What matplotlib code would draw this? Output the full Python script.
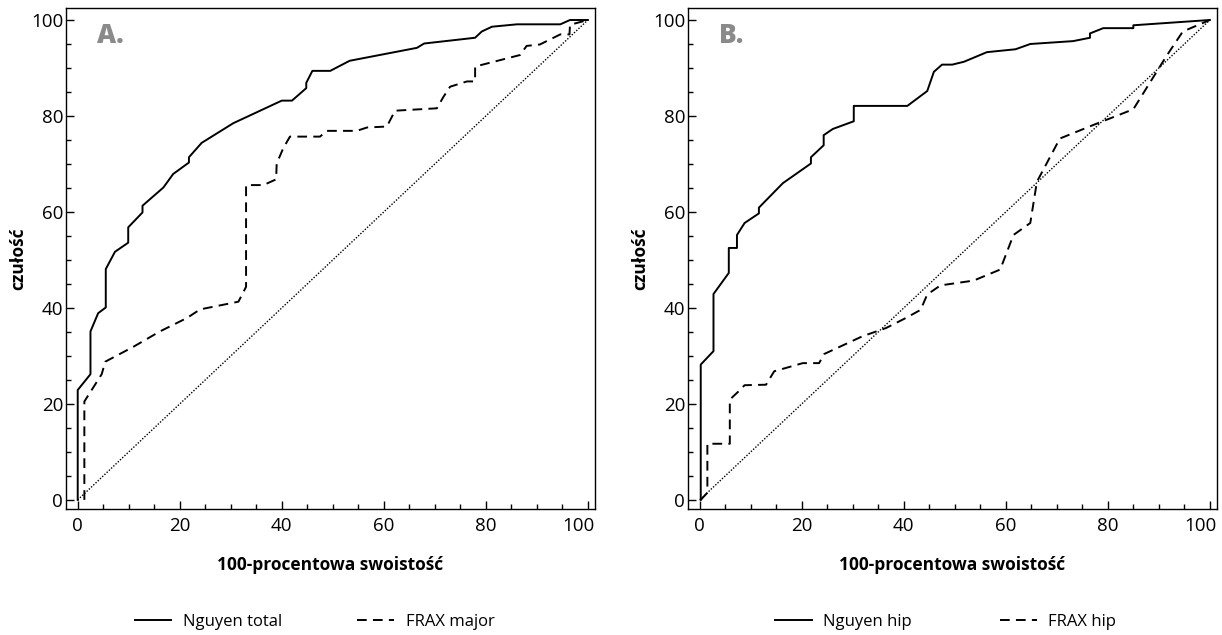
import matplotlib
matplotlib.use("Agg")
import matplotlib.pyplot as plt
from matplotlib.ticker import MultipleLocator, FuncFormatter

plt.rcParams["font.family"] = ["Open Sans", "DejaVu Sans"]

# Panel A: ROC curves (x = 100 - specificity, y = sensitivity)
nguyen_total_x = [0, 0, 2.5, 2.5, 4.0, 5.5, 5.5, 7.3, 9.9, 9.9, 12.7, 12.7, 16.8, 18.7,
                  21.8, 21.8, 24.3, 30.5, 40.0, 42.0, 44.8, 44.8, 46.0, 49.5, 53.3, 66.5,
                  67.9, 77.9, 79.2, 81.2, 86.1, 94.6, 96.5, 100]
nguyen_total_y = [0, 22.9, 26.2, 35.1, 38.9, 40.1, 48.1, 51.7, 53.6, 56.8, 59.9, 61.3,
                  65.1, 67.9, 70.3, 71.4, 74.4, 78.5, 83.2, 83.2, 85.8, 86.9, 89.4, 89.4,
                  91.5, 94.2, 95.1, 96.3, 97.6, 98.6, 99.1, 99.1, 100, 100]

frax_major_x = [1.3, 1.3, 4.7, 5.4, 10.9, 16.1, 21.4, 24.0, 31.5, 33.0, 33.0, 36.4, 38.9,
                39.0, 40.3, 41.6, 47.5, 48.8, 54.7, 56.7, 60.6, 62.2, 70.4, 71.7, 73.0,
                76.3, 77.9, 77.9, 86.7, 88.0, 90.6, 94.6, 96.4, 96.5, 100]
frax_major_y = [0, 20.5, 26.2, 28.8, 31.9, 35.1, 37.9, 39.7, 41.3, 44.4, 65.6, 65.6, 66.8,
                70.1, 73.3, 75.7, 75.7, 76.9, 76.9, 77.6, 77.8, 81.1, 81.6, 84.0, 86.1,
                87.2, 87.2, 90.3, 92.7, 94.6, 94.9, 97.0, 97.0, 99.0, 100]

# Panel B
nguyen_hip_x = [0.2, 0.2, 2.7, 2.7, 5.7, 5.7, 7.3, 7.3, 8.8, 11.6, 11.6, 16.3, 21.8, 21.8,
                24.3, 24.3, 26.1, 30.2, 30.2, 40.7, 44.6, 45.9, 47.5, 49.5, 51.8, 56.3,
                61.9, 64.8, 73.2, 76.5, 76.5, 79.1, 85.0, 85.0, 100]
nguyen_hip_y = [0, 28.2, 31.0, 42.9, 47.3, 52.5, 52.5, 55.2, 57.7, 59.7, 60.9, 66.0, 70.1,
                71.4, 73.9, 76.0, 77.3, 78.9, 82.1, 82.1, 85.2, 89.2, 90.7, 90.7, 91.3,
                93.3, 93.9, 95.0, 95.6, 96.3, 97.2, 98.3, 98.3, 98.9, 100]

frax_hip_x = [0.2, 1.5, 1.5, 5.9, 5.9, 7.5, 8.8, 13.0, 14.6, 20.2, 23.4, 24.4, 31.9, 36.5,
              40.4, 43.3, 44.6, 47.2, 53.7, 58.9, 61.5, 64.8, 66.1, 70.6, 77.1, 85.0,
              91.5, 94.7, 100]
frax_hip_y = [0, 1.5, 11.7, 11.7, 20.9, 22.5, 23.9, 24.0, 26.8, 28.5, 28.5, 30.4, 34.1,
              35.8, 37.9, 39.6, 42.8, 44.7, 45.7, 48.0, 55.2, 57.7, 66.3, 75.3, 78.1,
              81.4, 92.5, 97.6, 100]

panels = [
    ("A.", (nguyen_total_x, nguyen_total_y, "Nguyen total"),
     (frax_major_x, frax_major_y, "FRAX major"), 0.054, 0.47, 4.5),
    ("B.", (nguyen_hip_x, nguyen_hip_y, "Nguyen hip"),
     (frax_hip_x, frax_hip_y, "FRAX hip"), 0.563, 0.487, 5.3),
]

TICK_SIZE = 13.5
X_PAD = 6

fig = plt.figure(figsize=(12.22, 6.35), dpi=100)

for tag, solid, dashed, left, leg_x, colspace in panels:
    ax = fig.add_axes([left, 0.1984, 0.4329, 0.789])
    ax.plot(solid[0], solid[1], color="black", lw=1.4, label=solid[2])
    ax.plot(dashed[0], dashed[1], color="black", lw=1.4, linestyle=(0, (5, 3.2)),
            label=dashed[2])
    ax.plot([0, 100], [0, 100], color="black", lw=1.0, linestyle=(0, (1, 1.2)))

    ax.set_xlim(-2.3, 101.4)
    ax.set_ylim(-1.9, 102.5)
    ax.xaxis.set_major_locator(MultipleLocator(20))
    ax.xaxis.set_minor_locator(MultipleLocator(5))
    ax.yaxis.set_major_locator(MultipleLocator(20))
    ax.yaxis.set_minor_locator(MultipleLocator(5))
    # the "100" x label is drawn separately, nudged left like in the source
    ax.xaxis.set_major_formatter(FuncFormatter(lambda v, _: "" if v >= 100 else f"{v:.0f}"))
    ax.tick_params(which="both", direction="in", width=1, color="black")
    ax.tick_params(which="major", length=5.5, labelsize=TICK_SIZE)
    ax.tick_params(which="minor", length=3.5)
    ax.tick_params(axis="x", pad=X_PAD)
    ax.tick_params(axis="y", pad=2)
    for sp in ax.spines.values():
        sp.set_linewidth(1.0)

    ax.annotate("100", xy=(100, 0), xycoords=ax.get_xaxis_transform(),
                xytext=(-6.5, -X_PAD), textcoords="offset points",
                ha="center", va="top", fontsize=TICK_SIZE)

    ax.set_xlabel("100-procentowa swoistość", fontsize=12.5, fontweight="bold")
    ax.set_ylabel("czułość", fontsize=12.5, fontweight="bold")
    ax.xaxis.set_label_coords(0.5, -0.112)
    ax.xaxis.label.set_va("center")
    ax.yaxis.set_label_coords(-0.091, 0.5)
    ax.yaxis.label.set_va("center")

    ax.text(3.8, 95.2, tag, fontsize=19, fontweight="heavy", color="#8a8a8a",
            va="baseline")

    ax.legend(loc="center", bbox_to_anchor=(leg_x, -0.2255), ncol=2, frameon=False,
              fontsize=12, handlelength=2.2, handletextpad=0.7, columnspacing=colspace)

fig.savefig("out.png", dpi=100)
